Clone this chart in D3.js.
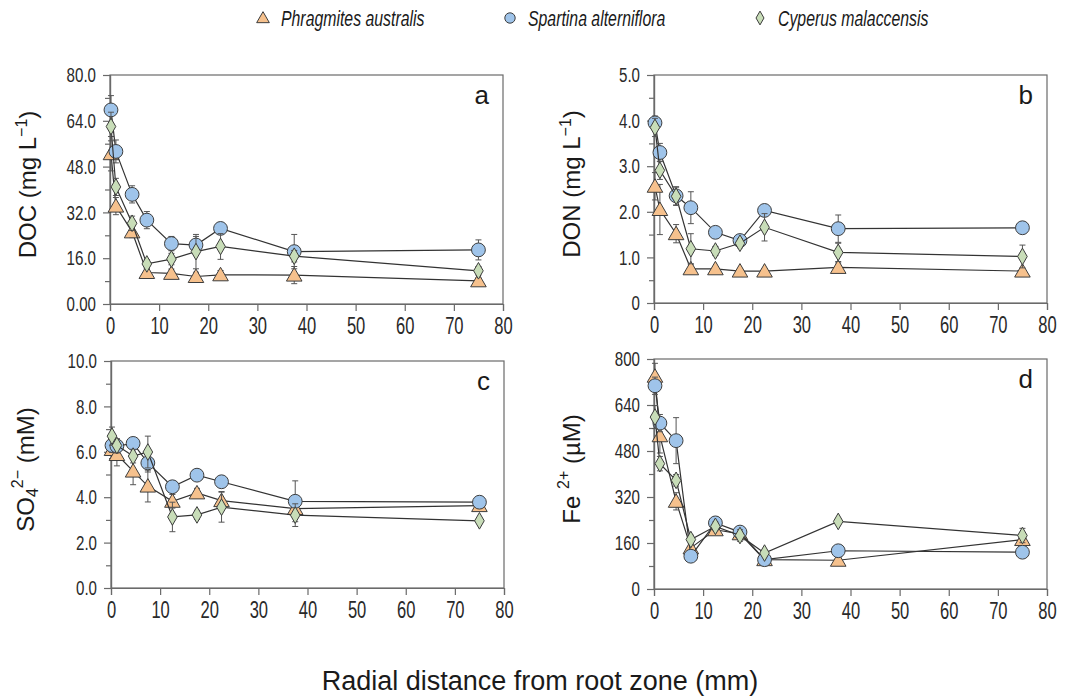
<!DOCTYPE html>
<html>
<head>
<meta charset="utf-8">
<script src="https://cdn.jsdelivr.net/npm/d3@7"></script>
<style>
  body { margin: 0; background: #fff; }
  svg { display: block; }
</style>
</head>
<body>
<div id="chart"></div>
<script>
const width = 1073;
const height = 699;

// radial distance (mm) of each sampling ring
const distance = [0.2, 1.2, 4.5, 7.5, 12.5, 17.5, 22.5, 37.5, 75];
const species = ["Phragmites australis", "Spartina alterniflora", "Cyperus malaccensis"];

// DOC (mg L-1)
const docPA = [52.5, 34.2, 25.2, 11.0, 10.7, 9.6, 10.2, 10.1, 8.1];
const docPAErr = [6, 3, 2, 1.5, 1.5, 1.5, 1.5, 3, 1];
const docSA = [67.8, 53.3, 38.3, 29.3, 21.1, 20.6, 26.4, 18.3, 18.9];
const docSAErr = [5, 4, 3, 3, 2.5, 3, 2, 6, 3.5];
const docCM = [62.0, 40.9, 28.2, 14.0, 15.7, 18.3, 20.1, 16.7, 11.6];
const docCMErr = [5, 3, 2.5, 1.5, 2, 6, 4.5, 2, 1.5];

// DON (mg L-1)
const donPA = [2.56, 2.05, 1.52, 0.75, 0.75, 0.70, 0.70, 0.78, 0.70];
const donPAErr = [0.3, 0.55, 0.2, 0.1, 0.05, 0.05, 0.05, 0.1, 0.05];
const donSA = [3.95, 3.3, 2.35, 2.09, 1.55, 1.37, 2.03, 1.63, 1.65];
const donSAErr = [0.15, 0.2, 0.2, 0.35, 0.1, 0.1, 0.1, 0.3, 0.05];
const donCM = [3.85, 2.91, 2.34, 1.19, 1.14, 1.31, 1.66, 1.11, 1.02];
const donCMErr = [0.2, 0.2, 0.2, 0.33, 0.1, 0.1, 0.3, 0.2, 0.25];

// SO4 2- (mM)
const so4PA = [6.1, 5.88, 5.15, 4.49, 3.82, 4.19, 3.85, 3.5, 3.63];
const so4PAErr = [0.4, 0.5, 0.6, 0.7, 0.3, 0.2, 0.4, 0.3, 0.2];
const so4SA = [6.28, 6.25, 6.37, 5.51, 4.46, 4.97, 4.68, 3.82, 3.78];
const so4SAErr = [0.3, 0.3, 0.2, 0.4, 0.2, 0.2, 0.2, 0.9, 0.2];
const so4CM = [6.69, 6.28, 5.81, 5.99, 3.13, 3.22, 3.56, 3.21, 2.96];
const so4CMErr = [0.4, 0.3, 0.3, 0.7, 0.65, 0.2, 0.66, 0.5, 0.1];

// Fe 2+ (uM)
const fePA = [740, 533, 305, 143, 206, 192, 102, 100, 172];
const fePAErr = [45, 60, 30, 20, 15, 15, 10, 10, 20];
const feSA = [707, 577, 516, 114, 230, 198, 102, 133, 128];
const feSAErr = [30, 30, 80, 15, 20, 20, 10, 10, 10];
const feCM = [598, 436, 378, 172, 218, 186, 125, 235, 186];
const feCMErr = [40, 25, 20, 15, 15, 20, 10, 10, 25];

const xTicks = [0, 10, 20, 30, 40, 50, 60, 70, 80];
const docTickLabels = ["0.00", "16.0", "32.0", "48.0", "64.0", "80.0"];
const donTickLabels = ["0", "1.0", "2.0", "3.0", "4.0", "5.0"];
const so4TickLabels = ["0.0", "2.0", "4.0", "6.0", "8.0", "10.0"];
const feTickLabels = ["0", "160", "320", "480", "640", "800"];

const fills = ["#f6c18d", "#9fc4ea", "#c8ddb8"];
const strokeCol = "#3d3d3d";
const axisCol = "#6a6a6a";
const mainFont = "'Liberation Sans', Arial, sans-serif";
const narrow = 0.72;

const svg = d3.select("#chart").append("svg")
    .attr("width", width)
    .attr("height", height);

const panels = [
    { letter: "a", left: 110, top: 75, bottom: 304, max: 80, labels: docTickLabels,
      series: [[docPA, docPAErr], [docSA, docSAErr], [docCM, docCMErr]], ylab: "doc", labX: 36 },
    { letter: "b", left: 654, top: 75, bottom: 303, max: 5, labels: donTickLabels,
      series: [[donPA, donPAErr], [donSA, donSAErr], [donCM, donCMErr]], ylab: "don", labX: 580 },
    { letter: "c", left: 111, top: 361, bottom: 588, max: 10, labels: so4TickLabels,
      series: [[so4PA, so4PAErr], [so4SA, so4SAErr], [so4CM, so4CMErr]], ylab: "so4", labX: 34 },
    { letter: "d", left: 654, top: 359, bottom: 589, max: 800, labels: feTickLabels,
      series: [[fePA, fePAErr], [feSA, feSAErr], [feCM, feCMErr]], ylab: "fe", labX: 580 }
];
const plotW = 393;

const symbols = [
    d3.symbol().type(d3.symbolTriangle).size(105),
    d3.symbol().type(d3.symbolCircle).size(150),
    d3.symbol().type(d3.symbolDiamond).size(80)
];

panels.forEach(p => {
    const g = svg.append("g");
    const x = d3.scaleLinear().domain([0, 80]).range([p.left, p.left + plotW]);
    const y = d3.scaleLinear().domain([0, p.max]).range([p.bottom, p.top]);

    // frame
    g.append("rect")
        .attr("x", p.left).attr("y", p.top)
        .attr("width", plotW).attr("height", p.bottom - p.top)
        .attr("fill", "none").attr("stroke", axisCol).attr("stroke-width", 1.2);

    const majors = d3.range(0, 6).map(i => i * p.max / 5);
    const minors = d3.range(0, 5).map(i => (i + 0.5) * p.max / 5);

    const yAxis = g.append("g")
        .attr("transform", `translate(${p.left},0)`)
        .call(d3.axisLeft(y).tickValues(majors).tickSize(7).tickPadding(4)
            .tickFormat((d, i) => p.labels[i]));
    const yMinor = g.append("g")
        .attr("transform", `translate(${p.left},0)`)
        .call(d3.axisLeft(y).tickValues(minors).tickSize(5).tickFormat(""));

    const xAxis = g.append("g")
        .attr("transform", `translate(0,${p.bottom})`)
        .call(d3.axisBottom(x).tickValues(xTicks).tickSize(7).tickPadding(7));

    [yAxis, yMinor, xAxis].forEach(a => {
        a.select(".domain").attr("stroke", axisCol).attr("stroke-width", 1.2);
        a.selectAll(".tick line").attr("stroke", axisCol).attr("stroke-width", 1.2);
        a.selectAll(".tick text")
            .style("font-family", mainFont)
            .attr("fill", "#2a2a2a");
    });
    yAxis.selectAll(".tick text")
        .style("font-size", "21px")
        .attr("x", -14 / narrow)
        .attr("transform", `scale(${narrow},1)`);
    xAxis.selectAll(".tick text")
        .style("font-size", "23px")
        .attr("transform", `scale(${narrow},1)`);

    // panel letter
    g.append("text")
        .attr("x", p.left + plotW - 14)
        .attr("y", p.top + 29)
        .attr("text-anchor", "end")
        .style("font-family", mainFont)
        .style("font-size", "26px")
        .attr("fill", "#1a1a1a")
        .text(p.letter);

    // y label
    const yl = g.append("text")
        .attr("transform", `translate(${p.labX},${(p.top + p.bottom) / 2 - 5}) rotate(-90)`)
        .attr("text-anchor", "middle")
        .style("font-family", mainFont)
        .style("font-size", "24px")
        .attr("fill", "#1a1a1a");
    if (p.ylab === "doc" || p.ylab === "don") {
        yl.append("tspan").text(p.ylab.toUpperCase() + " (mg L");
        yl.append("tspan").attr("dy", -9).style("font-size", "16px").text("\u22121");
        yl.append("tspan").attr("dy", 9).text(")");
    } else if (p.ylab === "so4") {
        yl.append("tspan").text("SO");
        yl.append("tspan").attr("dy", 4).style("font-size", "16px").text("4");
        yl.append("tspan").attr("dy", -15).style("font-size", "16px").text("2\u2212");
        yl.append("tspan").attr("dy", 11).text(" (mM)");
    } else {
        yl.append("tspan").text("Fe ");
        yl.append("tspan").attr("dy", -11).style("font-size", "16px").text("2+");
        yl.append("tspan").attr("dy", 11).text("  (\u00b5M)");
    }

    // series
    p.series.forEach(([vals, errs], si) => {
        const pts = distance.map((d, i) => ({ d: d, v: vals[i], e: errs[i] }));
        const sg = g.append("g");
        sg.append("path")
            .datum(pts)
            .attr("fill", "none")
            .attr("stroke", "#333")
            .attr("stroke-width", 1.2)
            .attr("d", d3.line().x(d => x(d.d)).y(d => y(d.v)));

        const eb = sg.selectAll(".err").data(pts).enter().append("g")
            .attr("stroke", "#555").attr("stroke-width", 1);
        eb.append("line")
            .attr("x1", d => x(d.d)).attr("x2", d => x(d.d))
            .attr("y1", d => y(d.v - d.e)).attr("y2", d => y(d.v + d.e));
        eb.append("line")
            .attr("x1", d => x(d.d) - 3).attr("x2", d => x(d.d) + 3)
            .attr("y1", d => y(d.v + d.e)).attr("y2", d => y(d.v + d.e));
        eb.append("line")
            .attr("x1", d => x(d.d) - 3).attr("x2", d => x(d.d) + 3)
            .attr("y1", d => y(d.v - d.e)).attr("y2", d => y(d.v - d.e));

        sg.selectAll(".mk").data(pts).enter().append("path")
            .attr("d", symbols[si])
            .attr("transform", d => `translate(${x(d.d)},${y(d.v) + (si === 0 ? 1.5 : 0)})`)
            .attr("fill", fills[si])
            .attr("stroke", strokeCol)
            .attr("stroke-width", 1);
    });
});

// legend
const legendX = [263, 510, 760];
const legend = svg.append("g");
species.forEach((s, i) => {
    const sym = i === 0 ? d3.symbol().type(d3.symbolTriangle).size(70)
        : i === 1 ? d3.symbol().type(d3.symbolCircle).size(85)
        : d3.symbol().type(d3.symbolDiamond).size(55);
    legend.append("path")
        .attr("d", sym)
        .attr("transform", `translate(${legendX[i]},${i === 0 ? 19 : 18})`)
        .attr("fill", fills[i])
        .attr("stroke", strokeCol)
        .attr("stroke-width", 1);
    legend.append("text")
        .attr("transform", `translate(${legendX[i] + 18},26) scale(${narrow},1)`)
        .style("font-family", mainFont)
        .style("font-style", "italic")
        .style("font-size", "22px")
        .attr("fill", "#1a1a1a")
        .text(s);
});

// shared x label
svg.append("text")
    .attr("x", 540)
    .attr("y", 690)
    .attr("text-anchor", "middle")
    .style("font-family", mainFont)
    .style("font-size", "27px")
    .attr("fill", "#1a1a1a")
    .text("Radial distance from root zone (mm)");
</script>
</body>
</html>
